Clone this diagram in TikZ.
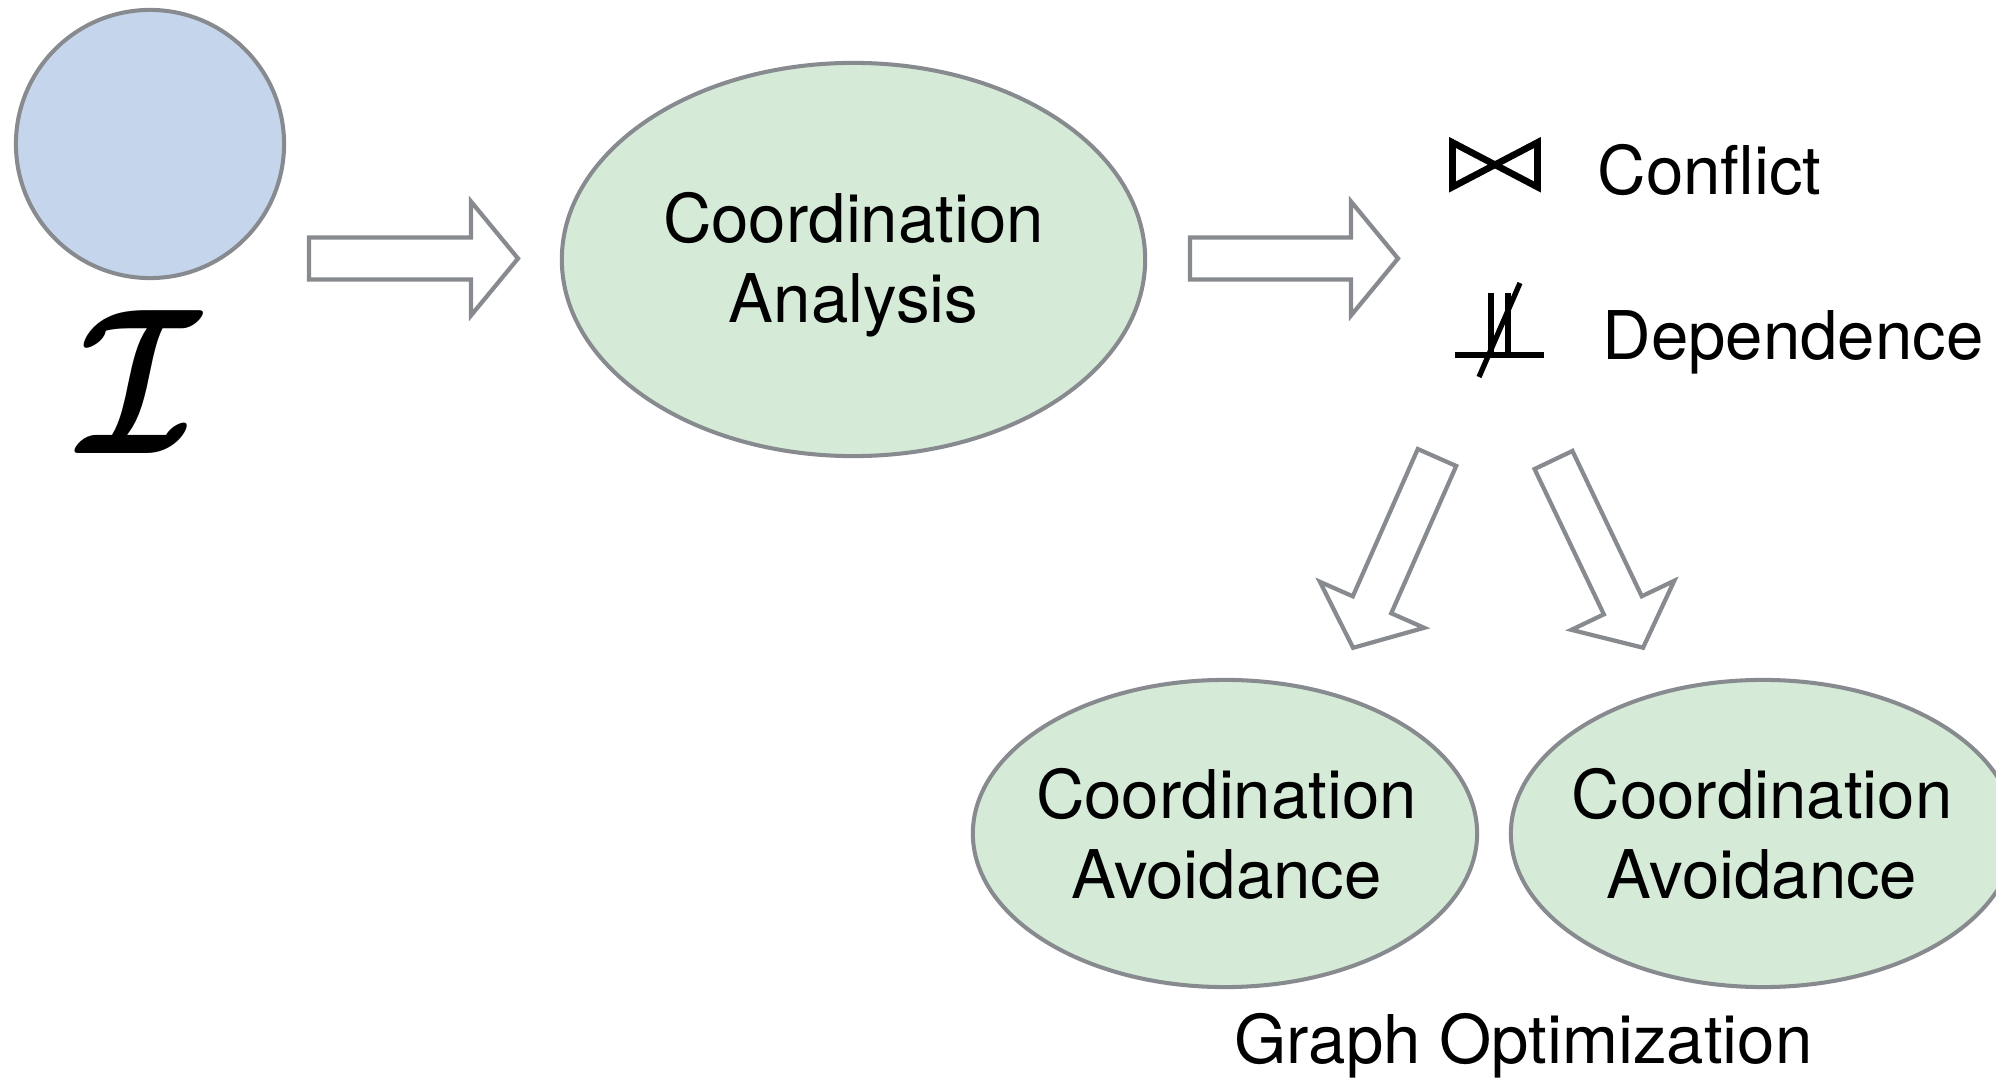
\documentclass[tikz,border=0pt]{standalone}
\usepackage{fontspec}
\setmainfont{TeX Gyre Heros}
\usetikzlibrary{shapes.geometric}
\definecolor{rim}{HTML}{878A8E}
\definecolor{bluefill}{HTML}{C5D5EC}
\definecolor{greenfill}{HTML}{D5EAD7}
% calligraphic I, taken straight from the bold symbol font
\newcommand{\calIglyph}{\fontsize{24.88pt}{26pt}\usefont{OMS}{cmsy}{b}{n}I}
\tikzset{
  oval/.style={ellipse, draw=rim, line width=1.15pt, fill=greenfill, inner sep=0pt},
  lbl/.style={inner sep=0pt, font=\fontsize{19.1pt}{22.8pt}\selectfont, text=black},
  glyph/.style={line width=1.9pt, line join=miter, line cap=butt},
  pics/blockarrow/.style={code={
    \draw[rim, line width=1.2pt, fill=white, line join=miter]
      (0,-21) -- (#1-47,-21) -- (#1-47,-57) -- (#1,0)
      -- (#1-47,57) -- (#1-47,21) -- (0,21) -- cycle;
  }},
}
\begin{document}
\begin{tikzpicture}[x=0.01cm, y=-0.01cm]
\useasboundingbox (0,0) rectangle (1996,1079);
\clip (0,0) rectangle (1996,1079);

% input set
\node[circle, draw=rim, line width=1.15pt, fill=bluefill, minimum size=2.68cm, inner sep=0pt]
  (inp) at (150,144) {};
\node[inner sep=0pt, xscale=1.93, yscale=2.38] (iset) at (133,382) {\calIglyph};

% first stage
\pic at (309,258.5) {blockarrow=209};
\node[oval, minimum width=5.83cm, minimum height=3.93cm] (ana) at (853.5,259.5) {};
\node[lbl, anchor=base] (anaA) at (853.5,243) {Coordination};
\node[lbl, anchor=base] (anaB) at (853.5,323) {Analysis};
\pic at (1190,258.5) {blockarrow=208};

% outcome legend: conflict
\draw[glyph] (1452.5,142.5) -- (1452.5,187) -- (1537.5,142.5) -- (1537.5,187) -- cycle;
\node[lbl, anchor=base west] (conf) at (1597,195) {Conflict};

% outcome legend: dependence
\draw[line width=1.7pt] (1455,355) -- (1544,355);
\draw[line width=1.6pt] (1491,293) -- (1491,355);
\draw[line width=1.6pt] (1508,293) -- (1508,355);
\draw[line width=1.5pt] (1479,377) -- (1520,283);
\node[lbl, anchor=base west] (dep) at (1602,360) {Dependence};

% split into the optimisation stage
\pic[rotate=246.2] at (1437,457.5) {blockarrow=208};
\pic[rotate=-64.5] at (1553.5,460) {blockarrow=208};

\node[oval, minimum width=5.04cm, minimum height=3.07cm] (avL) at (1225,833.5) {};
\node[lbl, anchor=base] (avLA) at (1226.5,818) {Coordination};
\node[lbl, anchor=base] (avLB) at (1226.5,898) {Avoidance};

\node[oval, minimum width=5.04cm, minimum height=3.07cm] (avR) at (1763,833.5) {};
\node[lbl, anchor=base] (avRA) at (1762,818) {Coordination};
\node[lbl, anchor=base] (avRB) at (1762,898) {Avoidance};

\node[lbl, anchor=base] (gopt) at (1523.5,1063) {Graph Optimization};
\end{tikzpicture}
\end{document}
